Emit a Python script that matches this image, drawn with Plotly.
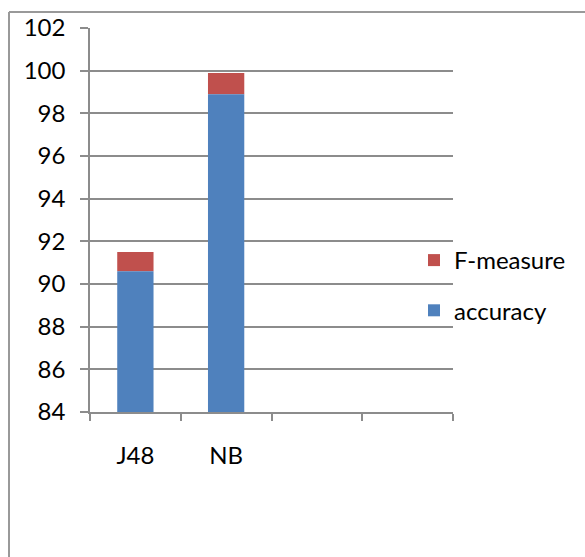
import plotly.graph_objects as go

# Classifier comparison: stacked accuracy + F-measure
categories = ["J48", "NB", "", ""]
accuracy = [90.6, 98.9]
f_measure = [0.9, 0.99]
y_ticks = [84, 86, 88, 90, 92, 94, 96, 98, 100, 102]

W, H = 585, 557
L, R, T, B = 90, 132, 28, 145
pw, ph = W - L - R, H - T - B

x_pos = list(range(len(categories)))
grid_col = "#8c8c8c"
font = dict(family="Lato, Carlito, 'Open Sans', sans-serif", size=24, color="#000000")

fig = go.Figure()
# F-measure segment sits on top of the accuracy segment
fig.add_trace(go.Bar(
    x=x_pos[:len(f_measure)], y=f_measure, base=accuracy,
    name="F-measure", marker=dict(color="#C0504D", line=dict(width=0)),
    width=0.4, legendgroup="f",
))
fig.add_trace(go.Bar(
    x=x_pos[:len(accuracy)], y=[a - 84 for a in accuracy], base=84,
    name="accuracy", marker=dict(color="#4F81BD", line=dict(width=0)),
    width=0.4, legendgroup="a",
))

# outer chart frame (top and left edges)
x0 = (9 - L) / pw
x1 = (W - L) / pw
ytop = (H - B - 12) / ph
ybot = -(B) / ph
fig.add_shape(type="line", xref="paper", yref="paper", x0=x0, x1=x1, y0=ytop, y1=ytop,
              line=dict(color="#999999", width=2))
fig.add_shape(type="line", xref="paper", yref="paper", x0=x0, x1=x0, y0=ytop, y1=ybot,
              line=dict(color="#999999", width=2))

fig.update_layout(
    width=W, height=H,
    margin=dict(l=L, r=R, t=T, b=B, pad=0),
    paper_bgcolor="white", plot_bgcolor="white",
    barmode="overlay",
    font=font,
    showlegend=True,
    legend=dict(
        x=(414 - L) / pw, y=(H - B - 238) / ph, xanchor="left", yanchor="top",
        traceorder="grouped", tracegroupgap=16,
        bgcolor="rgba(0,0,0,0)", font=font, itemwidth=30,
    ),
    xaxis=dict(
        range=[-0.5, 3.5], tickvals=x_pos, ticktext=categories,
        showgrid=False, zeroline=False,
        showline=True, linecolor=grid_col, linewidth=1.5,
        ticks="", ticklabelstandoff=21,
        minor=dict(tickvals=[-0.5, 0.5, 1.5, 2.5, 3.5], ticks="outside",
                   ticklen=7, tickcolor=grid_col, tickwidth=1.5, showgrid=False),
        fixedrange=True,
    ),
    yaxis=dict(
        range=[84, 102], tickvals=y_ticks,
        showgrid=True, gridcolor=grid_col, gridwidth=1.5,
        zeroline=False,
        showline=True, linecolor=grid_col, linewidth=1.5,
        ticks="outside", ticklen=8, tickcolor=grid_col, tickwidth=1.5,
        ticklabelstandoff=10,
        fixedrange=True,
    ),
)

fig.write_html("out.html")
